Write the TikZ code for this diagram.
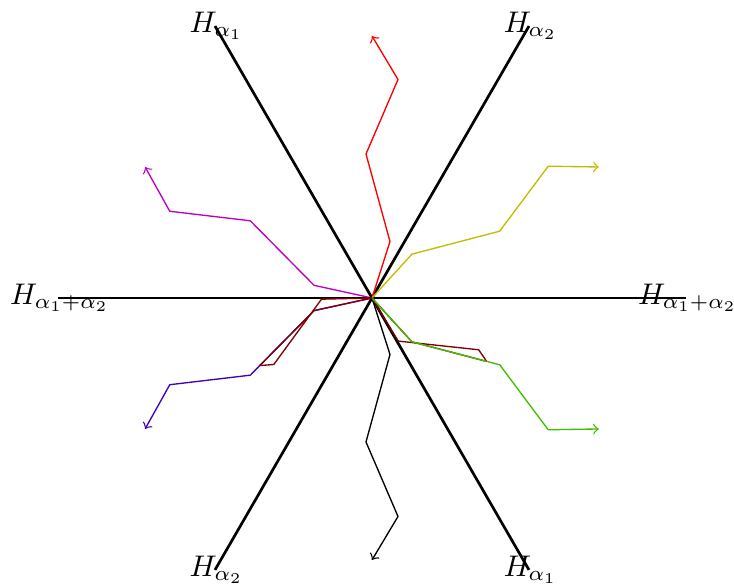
\documentclass[tikz,border=0pt]{standalone}
\definecolor{colY}{rgb}{0.75,0.75,0}
\definecolor{colG}{rgb}{0.25,0.75,0}
\definecolor{colM}{rgb}{0.75,0,0.75}
\definecolor{colB}{rgb}{0.25,0,0.75}
\definecolor{colMr}{rgb}{0.5,0,0}
\tikzset{
  wall/.style={line width=0.9pt},
  lbl/.style={inner sep=0pt,xshift=0.5pt},
  pth/.style={line width=0.45pt,->},
  seg/.style={line width=0.45pt},
  redbase/.pic={\draw[pic actions] (0,0) -- (18,56.5) -- (-6,144) -- (26,218.5) -- (0,262);},
  foldbase/.pic={\draw[pic actions] (0,0) -- (24.2,44.3) -- (-8.5,118.3) -- (-2.4,131);},
  cutbase/.pic={\draw[pic actions] (0,0) -- (18,56.5) -- (-2.4,131);}
}
\begin{document}
\begin{tikzpicture}[x=0.335pt,y=0.335pt]
\useasboundingbox (-372,-289) rectangle (362,298);
\coordinate (O) at (0,0);
\coordinate (a1s) at (120:314);
\coordinate (a1e) at (-60:314);
\coordinate (a2s) at (60:314);
\coordinate (a2e) at (240:314);
\coordinate (a3s) at (180:314);
\coordinate (a3e) at (0:314);
\draw[wall] (a1s) -- (a1e);
\draw[wall] (a2s) -- (a2e);
\draw[wall] (a3s) -- (a3e);
\node[lbl] (l1) at (a1s) {$H_{\alpha_1}$};
\node[lbl] (l2) at (a1e) {$H_{\alpha_1}$};
\node[lbl] (l3) at (a2s) {$H_{\alpha_2}$};
\node[lbl] (l4) at (a2e) {$H_{\alpha_2}$};
\node[lbl] (l5) at (a3s) {$H_{\alpha_1+\alpha_2}$};
\node[lbl] (l6) at (a3e) {$H_{\alpha_1+\alpha_2}$};
% paths
\pic[color=red,pth] {redbase};
\pic[color=black,pth,yscale=-1] {redbase};
\pic[color=colY,pth,rotate=120,yscale=-1] {redbase};
\pic[color=colM,pth,rotate=240,yscale=-1] {redbase};
\pic[color=colMr,seg,rotate=-120] {foldbase};
\pic[color=colMr,seg,rotate=-120] {cutbase};
\pic[color=colG,pth,rotate=-120] {redbase};
\pic[color=colB,pth,rotate=120] {redbase};
\pic[color=colMr,seg,rotate=120] {foldbase};
\pic[color=colMr,seg,rotate=120] {cutbase};
\end{tikzpicture}
\end{document}
